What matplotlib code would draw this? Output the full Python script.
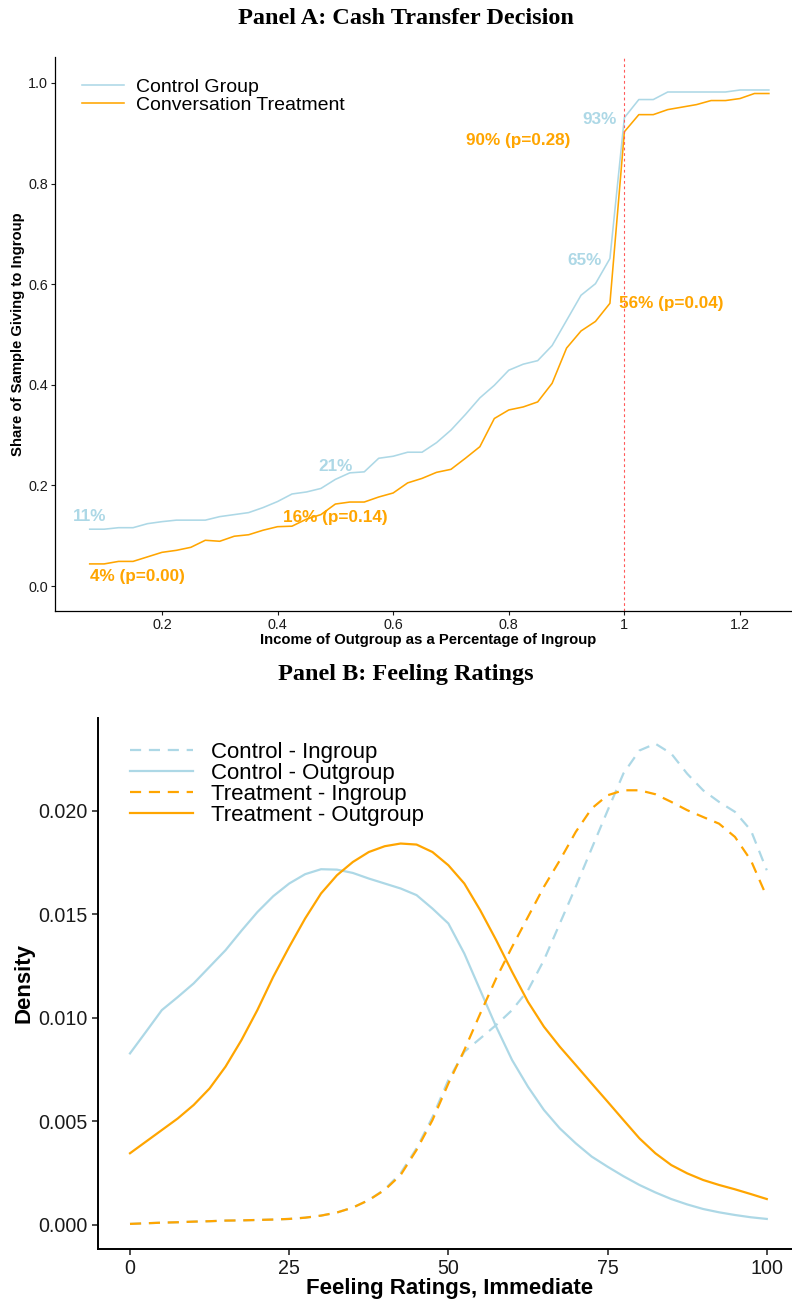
import matplotlib
matplotlib.use("Agg")
import matplotlib.pyplot as plt
import numpy as np

plt.rcParams['font.family'] = ['Liberation Sans', 'DejaVu Sans']

CTRL = 'lightblue'
TREAT = 'orange'
TICK_COL = '#1a1a1a'

# ---- Panel A data: share giving to ingroup by relative outgroup income
income = [0.075, 0.1, 0.125, 0.15, 0.175, 0.2, 0.225, 0.25, 0.275, 0.3,
          0.325, 0.35, 0.375, 0.4, 0.425, 0.45, 0.475, 0.5, 0.525, 0.55,
          0.575, 0.6, 0.625, 0.65, 0.675, 0.7, 0.725, 0.75, 0.775, 0.8,
          0.825, 0.85, 0.875, 0.9, 0.925, 0.95, 0.975, 1.0, 1.025, 1.05,
          1.075, 1.1, 1.125, 1.15, 1.175, 1.2, 1.225, 1.25]
control_share = [0.113, 0.113, 0.116, 0.116, 0.124, 0.128, 0.131, 0.131, 0.131, 0.138,
                 0.142, 0.146, 0.156, 0.168, 0.183, 0.187, 0.194, 0.212, 0.225, 0.227,
                 0.254, 0.258, 0.266, 0.266, 0.285, 0.310, 0.341, 0.374, 0.399, 0.429,
                 0.441, 0.448, 0.478, 0.528, 0.578, 0.601, 0.651, 0.931, 0.967, 0.967,
                 0.982, 0.982, 0.982, 0.982, 0.982, 0.986, 0.986, 0.986]
treat_share = [0.044, 0.044, 0.049, 0.049, 0.058, 0.067, 0.071, 0.077, 0.091, 0.089,
               0.099, 0.102, 0.111, 0.118, 0.119, 0.133, 0.142, 0.163, 0.167, 0.167,
               0.177, 0.185, 0.205, 0.214, 0.226, 0.232, 0.254, 0.277, 0.333, 0.350,
               0.356, 0.366, 0.403, 0.473, 0.507, 0.526, 0.562, 0.903, 0.937, 0.937,
               0.947, 0.952, 0.957, 0.965, 0.965, 0.969, 0.979, 0.979]

# points that get a percentage label, with p-values for the treatment difference
label_x = [0.075, 0.5, 0.975, 1.0]
p_values = ['0.00', '0.14', '0.04', '0.28']

# ---- Panel B data: feeling-rating densities (in thousandths)
rating = [0, 2.5, 5, 7.5, 10, 12.5, 15, 17.5, 20, 22.5, 25, 27.5, 30, 32.5, 35,
          37.5, 40, 42.5, 45, 47.5, 50, 52.5, 55, 57.5, 60, 62.5, 65, 67.5, 70,
          72.5, 75, 77.5, 80, 82.5, 85, 87.5, 90, 92.5, 95, 97.5, 100]
ctrl_in = [0.05, 0.08, 0.11, 0.13, 0.16, 0.18, 0.21, 0.22, 0.24, 0.26, 0.29, 0.35,
           0.45, 0.60, 0.84, 1.20, 1.72, 2.50, 3.70, 5.20, 7.00, 8.36, 9.00, 9.65,
           10.37, 11.33, 12.78, 14.55, 16.32, 18.17, 20.00, 21.80, 22.90, 23.23,
           22.75, 21.78, 20.98, 20.42, 19.94, 19.05, 17.12]
ctrl_out = [8.28, 9.32, 10.37, 11.00, 11.66, 12.46, 13.26, 14.20, 15.10, 15.87,
            16.48, 16.93, 17.17, 17.15, 16.99, 16.72, 16.48, 16.24, 15.92, 15.27,
            14.55, 13.10, 11.33, 9.57, 7.96, 6.67, 5.55, 4.66, 3.94, 3.30, 2.81,
            2.35, 1.93, 1.57, 1.25, 0.99, 0.77, 0.61, 0.48, 0.37, 0.29]
treat_in = [0.05, 0.08, 0.11, 0.13, 0.16, 0.18, 0.21, 0.22, 0.24, 0.26, 0.29, 0.35,
            0.45, 0.60, 0.84, 1.20, 1.69, 2.41, 3.62, 5.06, 6.83, 8.44, 10.20, 11.90,
            13.42, 14.87, 16.32, 17.60, 18.97, 20.10, 20.74, 20.98, 20.98, 20.79,
            20.42, 20.02, 19.69, 19.37, 18.73, 17.60, 15.84]
treat_out = [3.46, 4.02, 4.58, 5.14, 5.79, 6.59, 7.64, 8.92, 10.37, 11.98, 13.42,
             14.79, 16.00, 16.88, 17.52, 18.00, 18.28, 18.41, 18.36, 18.00, 17.36,
             16.48, 15.19, 13.75, 12.22, 10.77, 9.57, 8.60, 7.72, 6.83, 5.95, 5.06,
             4.18, 3.46, 2.89, 2.49, 2.17, 1.93, 1.72, 1.49, 1.25]

fig = plt.figure(figsize=(7.92, 13.04), dpi=100)
axA = fig.add_axes([0.0694, 0.5314, 0.9306, 0.4249])
axB = fig.add_axes([0.1237, 0.0422, 0.8763, 0.4072])

title_kw = dict(ha='center', va='center', fontsize=17.5, fontweight='bold',
                family=['Liberation Serif', 'DejaVu Serif'])
fig.text(406 / 792, 1 - 18 / 1304, 'Panel A: Cash Transfer Decision', **title_kw)
fig.text(406 / 792, 1 - 675 / 1304, 'Panel B: Feeling Ratings', **title_kw)

# ---------------- Panel A ----------------
axA.plot(income, control_share, color=CTRL, lw=1.15, label='Control Group')
axA.plot(income, treat_share, color=TREAT, lw=1.15, label='Conversation Treatment')
axA.axvline(1.0, color='#ff5a5a', lw=0.8, ls=(0, (2.5, 2.5)))

ctrl = dict(zip(income, control_share))
trt = dict(zip(income, treat_share))
ann = dict(fontsize=12.3, fontweight='bold', va='center')
x0, x1, x2, x3 = label_x
axA.text(x0, ctrl[x0] + 0.025, f'{ctrl[x0]:.0%}', color=CTRL, ha='center', **ann)
axA.text(x0, trt[x0] - 0.026, f'{trt[x0]:.0%} (p={p_values[0]})', color=TREAT, ha='left', **ann)
axA.text(x1, ctrl[x1] + 0.025, f'{ctrl[x1]:.0%}', color=CTRL, ha='center', **ann)
axA.text(x1, trt[x1] - 0.026, f'{trt[x1]:.0%} (p={p_values[1]})', color=TREAT, ha='center', **ann)
axA.text(x2 - 0.014, ctrl[x2] - 0.003, f'{ctrl[x2]:.0%}', color=CTRL, ha='right', **ann)
axA.text(x2 + 0.015, trt[x2], f'{trt[x2]:.0%} (p={p_values[2]})', color=TREAT, ha='left', **ann)
axA.text(x3 - 0.013, ctrl[x3] - 0.004, f'{ctrl[x3]:.0%}', color=CTRL, ha='right', **ann)
axA.text(x3 - 0.094, trt[x3] - 0.017, f'{trt[x3]:.0%} (p={p_values[3]})', color=TREAT, ha='right', **ann)

axA.set_xlim(0.0149, 1.290)
axA.set_ylim(-0.0497, 1.0516)
axA.set_xticks([0.2, 0.4, 0.6, 0.8, 1.0, 1.2])
axA.set_xticklabels(['0.2', '0.4', '0.6', '0.8', '1', '1.2'])
axA.set_yticks([0.0, 0.2, 0.4, 0.6, 0.8, 1.0])
axA.set_yticklabels(['0.0', '0.2', '0.4', '0.6', '0.8', '1.0'])
axA.tick_params(length=3, width=0.8, labelsize=10.4, pad=2, colors=TICK_COL, labelcolor=TICK_COL)
for s in ['top', 'right']:
    axA.spines[s].set_visible(False)
for s in ['left', 'bottom']:
    axA.spines[s].set_linewidth(0.9)

axA.set_xlabel('Income of Outgroup as a Percentage of Ingroup', fontsize=10.7,
               fontweight='bold', va='center')
axA.xaxis.set_label_coords(0.506, -0.052)
axA.set_ylabel('Share of Sample Giving to Ingroup', fontsize=10.7,
               fontweight='bold', va='center')
axA.yaxis.set_label_coords(-0.050, 0.5)

axA.legend(loc='upper left', bbox_to_anchor=(0.0366, 0.961), frameon=False,
           fontsize=14, borderpad=0, borderaxespad=0, handlelength=2.16,
           handletextpad=0.6, labelspacing=0.0)

# ---------------- Panel B ----------------
k = np.array(rating)
dash = (0, (5, 3.5))
axB.plot(k, np.array(ctrl_in) / 1000, color=CTRL, lw=1.6, ls=dash, label='Control - Ingroup')
axB.plot(k, np.array(ctrl_out) / 1000, color=CTRL, lw=1.6, label='Control - Outgroup')
axB.plot(k, np.array(treat_in) / 1000, color=TREAT, lw=1.6, ls=dash, label='Treatment - Ingroup')
axB.plot(k, np.array(treat_out) / 1000, color=TREAT, lw=1.6, label='Treatment - Outgroup')

axB.set_xlim(-5.03, 103.96)
axB.set_ylim(-0.00116, 0.02447)
axB.set_xticks([0, 25, 50, 75, 100])
axB.set_yticks([0.0, 0.005, 0.010, 0.015, 0.020])
axB.set_yticklabels(['0.000', '0.005', '0.010', '0.015', '0.020'])
axB.tick_params(length=4.5, width=1.1, labelsize=14.1, pad=3, colors=TICK_COL, labelcolor=TICK_COL)
for s in ['top', 'right']:
    axB.spines[s].set_visible(False)
for s in ['left', 'bottom']:
    axB.spines[s].set_linewidth(1.4)

axB.set_xlabel('Feeling Ratings, Immediate', fontsize=16, fontweight='bold', va='center')
axB.xaxis.set_label_coords(0.506, -0.0753)
axB.set_ylabel('Density', fontsize=16, fontweight='bold', va='center')
axB.yaxis.set_label_coords(-0.107, 0.5)

axB.legend(loc='upper left', bbox_to_anchor=(0.046, 0.955), frameon=False,
           fontsize=16, borderpad=0, borderaxespad=0, handlelength=2.84,
           handletextpad=0.8, labelspacing=0.0)

fig.savefig('out.png', dpi=100)
